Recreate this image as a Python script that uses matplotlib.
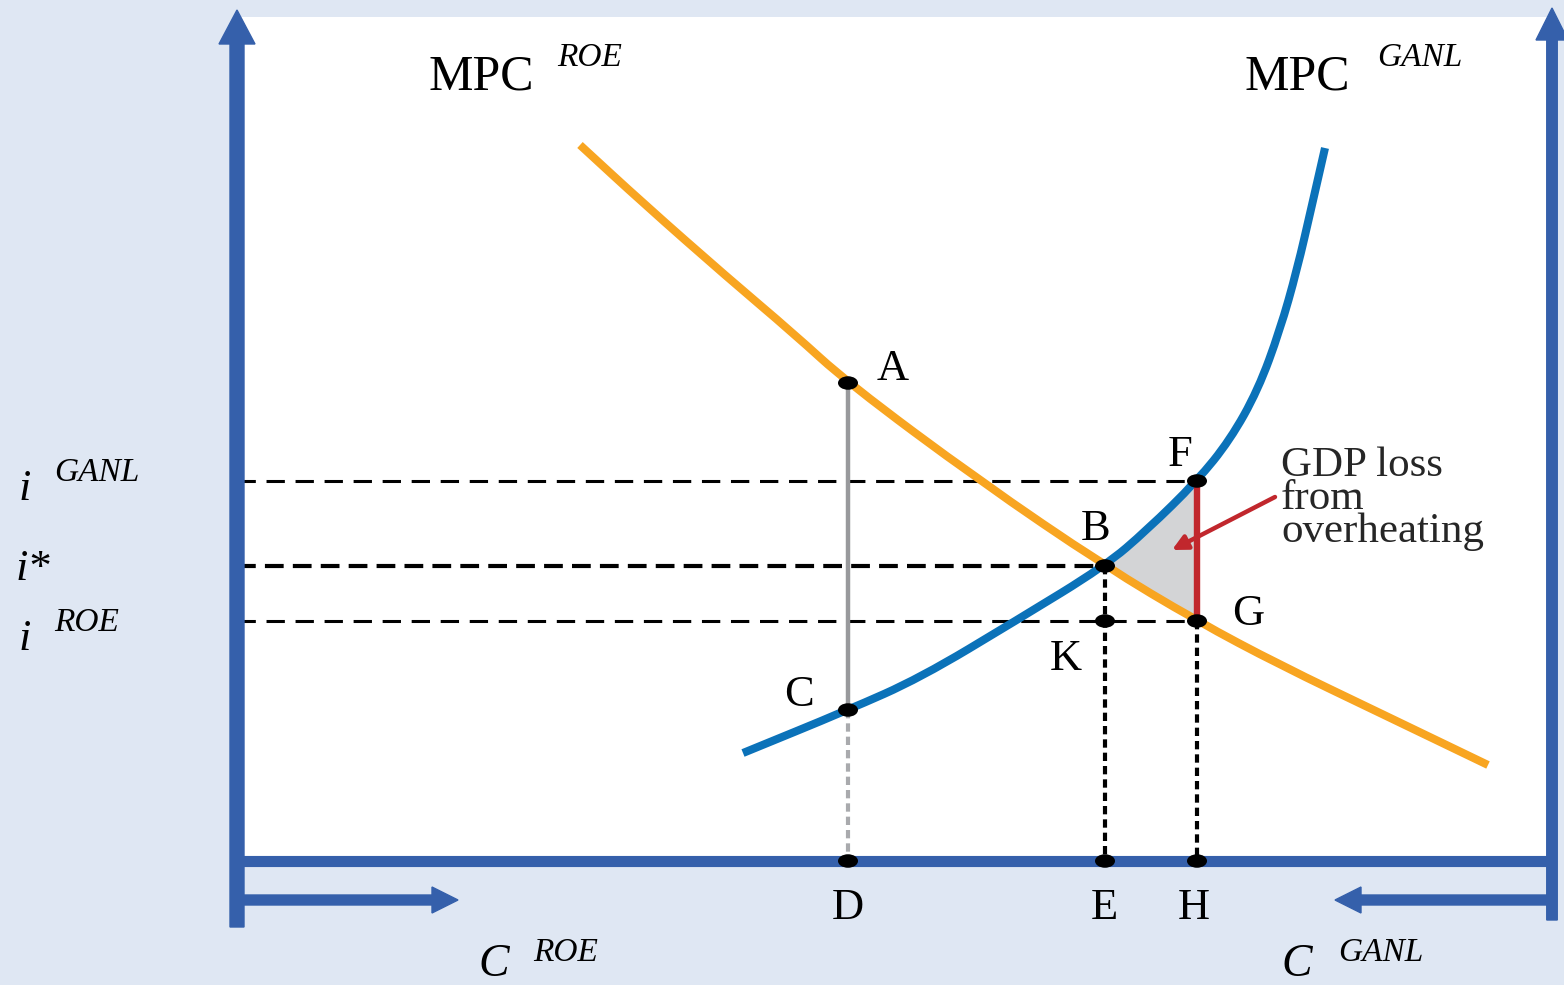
import matplotlib
matplotlib.use("Agg")
import matplotlib.pyplot as plt
from matplotlib.path import Path
from matplotlib.patches import PathPatch, Ellipse, FancyArrow, Rectangle, Polygon
from matplotlib.transforms import Affine2D

# --- data (consumption on x, interest rate on y) ---
mpc_roe_x = [34.3, 40.6, 49.0, 55.6, 61.1, 74.3, 86.8, 96.0, 104.3, 114.3, 125.1]
mpc_roe_y = [71.6, 65.8, 58.4, 52.8, 47.8, 38.0, 29.5, 24.0, 19.6, 14.8, 9.6]

mpc_ganl_x = [50.6, 61.1, 68.3, 78.0, 86.8, 91.0, 96.0, 99.3, 102.1, 104.3, 106.0, 107.5, 108.8]
mpc_ganl_y = [10.8, 15.1, 18.3, 24.1, 29.5, 33.1, 38.0, 42.1, 47.1, 53.1, 59.1, 65.6, 71.3]

point_names = ["A", "B", "C", "D", "E", "F", "G", "H", "K"]
point_x = [61.1, 86.8, 61.1, 61.1, 86.8, 96.0, 96.0, 96.0, 86.8]
point_y = [47.8, 29.5, 15.1, 0.0, 0.0, 38.0, 24.0, 0.0, 24.0]

rate_levels = [38.0, 29.5, 24.0]          # i^GANL, i*, i^ROE
rate_ends = ["F", "B", "G"]

axis_right = 131.5

# --- styles ---
BG = "#dfe7f3"
AXIS = "#3560ab"
ORANGE = "#f8a521"
BLUE = "#0b72b9"
RED = "#c1272d"
GREY = "#98999c"
FILL = "#d3d4d6"
SERIF = "Liberation Serif"

W, H = 1564, 985
fig = plt.figure(figsize=(W / 100, H / 100), dpi=100, facecolor=BG)
ax = fig.add_axes([0, 0, 1, 1])
ax.set_xlim(-23.7, 132.7)
ax.set_ylim(-12.4, 86.1)
ax.axis("off")

# pixel positions measured from the top-left corner, for text layout
pix = Affine2D().scale(1 / W, -1 / H).translate(0, 1) + fig.transFigure

pts = {n: (x, y) for n, x, y in zip(point_names, point_x, point_y)}

ax.add_patch(Rectangle((0, 0), axis_right, 84.4, facecolor="white", edgecolor="none", zorder=0))


def smooth_path(xs, ys):
    """quadratic B-spline through the midpoints of the control polygon"""
    p = list(zip(xs, ys))
    verts = [p[0], ((p[0][0] + p[1][0]) / 2, (p[0][1] + p[1][1]) / 2)]
    codes = [Path.MOVETO, Path.LINETO]
    for i in range(1, len(p) - 1):
        mid = ((p[i][0] + p[i + 1][0]) / 2, (p[i][1] + p[i + 1][1]) / 2)
        verts += [p[i], mid]
        codes += [Path.CURVE3, Path.CURVE3]
    verts.append(p[-1])
    codes.append(Path.LINETO)
    return Path(verts, codes)


# shaded triangle B-F-G between the two curves
bx, fx = pts["B"][0], pts["F"][0]
tri = [(x, y) for x, y in zip(mpc_ganl_x, mpc_ganl_y) if bx <= x <= fx]
tri += [(x, y) for x, y in reversed(list(zip(mpc_roe_x, mpc_roe_y))) if bx <= x <= fx]
ax.add_patch(Polygon(tri, closed=True, facecolor=FILL, edgecolor="none", zorder=1))

# dashed guides to the interest-rate axis
for lvl, end, lw, dash in zip(rate_levels, rate_ends, [2.2, 3.0, 2.2], [(6, 3.5), (4.5, 2.2), (6, 3.5)]):
    ax.plot([0, pts[end][0]], [lvl, lvl], color="black", lw=lw, dashes=dash,
            solid_capstyle="butt", zorder=2)

# verticals
ax.plot([pts["A"][0], pts["C"][0]], [pts["A"][1], pts["C"][1]], color=GREY, lw=3.2, zorder=2)
ax.plot([pts["C"][0], pts["D"][0]], [pts["C"][1], pts["D"][1]], color="#a9aaad", lw=3.0,
        dashes=(2, 1.2), zorder=2)
for top, bot in [("B", "E"), ("G", "H")]:
    ax.plot([pts[top][0], pts[bot][0]], [pts[top][1], pts[bot][1]], color="black", lw=3.0,
            dashes=(2, 1.2), zorder=2)

# MPC curves
ax.add_patch(PathPatch(smooth_path(mpc_roe_x, mpc_roe_y), fill=False, edgecolor=ORANGE,
                       lw=5.8, capstyle="butt", zorder=3))
ax.add_patch(PathPatch(smooth_path(mpc_ganl_x, mpc_ganl_y), fill=False, edgecolor=BLUE,
                       lw=5.8, capstyle="butt", zorder=3))

# GDP loss segment F-G
ax.plot([pts["F"][0], pts["G"][0]], [pts["F"][1], pts["G"][1]], color=RED, lw=4.6,
        solid_capstyle="butt", zorder=4)

# axes with arrows
ax.add_patch(FancyArrow(0, -6.6, 0, 91.7, width=1.4, head_width=3.6, head_length=3.4,
                        length_includes_head=True, color=AXIS, zorder=5))
ax.add_patch(FancyArrow(axis_right, -5.9, 0, 91.2, width=1.05, head_width=3.2, head_length=3.2,
                        length_includes_head=True, color=AXIS, zorder=5))
ax.plot([0, axis_right], [0, 0], color=AXIS, lw=8, solid_capstyle="butt", zorder=5)
ax.add_patch(FancyArrow(0, -3.9, 22.1, 0, width=1.0, head_width=2.6, head_length=2.6,
                        length_includes_head=True, color=AXIS, zorder=5))
ax.add_patch(FancyArrow(axis_right, -3.9, -21.7, 0, width=1.0, head_width=2.6, head_length=2.6,
                        length_includes_head=True, color=AXIS, zorder=5))

# points
for n in point_names:
    ax.add_patch(Ellipse(pts[n], 2.0, 1.35, facecolor="black", edgecolor="none", zorder=6))

# point letters (offsets in pixels from each dot to the letter baseline)
letter_offsets = {"A": (45, 3), "F": (-17, 15), "B": (-9, 26), "G": (51, -4), "K": (-39, -49),
                  "C": (-49, 4), "D": (0, -58), "E": (-1, -58), "H": (-3, -58)}
for n, off in letter_offsets.items():
    ax.annotate(n, pts[n], xytext=off, textcoords="offset pixels", ha="center", va="baseline",
                fontsize=32, family=SERIF, color="black", zorder=7)

# arrow to the shaded area
ax.annotate("", xy=(93.5, 31.1), xytext=(103.8, 36.4),
            arrowprops=dict(arrowstyle="-|>,head_length=0.9,head_width=0.45", color=RED, lw=3.2,
                            shrinkA=0, shrinkB=0), zorder=7)
ax.text(1281, 542, "GDP loss\nfrom\noverheating", transform=pix, ha="left", va="baseline",
        fontsize=31, family=SERIF, color="#262626", linespacing=0.82)

# curve names
for cx, sx, sup in [(481, 590, "ROE"), (1297, 1420, "GANL")]:
    ax.text(cx, 90, "MPC", transform=pix, ha="center", va="baseline", fontsize=36, family=SERIF)
    ax.text(sx, 66, sup, transform=pix, ha="center", va="baseline", fontsize=24, family=SERIF,
            style="italic")

# interest-rate labels
ax.text(25, 500, "i", transform=pix, ha="center", va="baseline", fontsize=32, family=SERIF, style="italic")
ax.text(97, 481, "GANL", transform=pix, ha="center", va="baseline", fontsize=24, family=SERIF, style="italic")
ax.text(16, 580, "i*", transform=pix, ha="left", va="baseline", fontsize=32, family=SERIF, style="italic")
ax.text(25, 650, "i", transform=pix, ha="center", va="baseline", fontsize=32, family=SERIF, style="italic")
ax.text(87, 631, "ROE", transform=pix, ha="center", va="baseline", fontsize=24, family=SERIF, style="italic")

# consumption labels
for cx, sx, sup in [(494, 566, "ROE"), (1297, 1381, "GANL")]:
    ax.text(cx, 976, "C", transform=pix, ha="center", va="baseline", fontsize=33, family=SERIF, style="italic")
    ax.text(sx, 961, sup, transform=pix, ha="center", va="baseline", fontsize=24, family=SERIF, style="italic")

fig.savefig("out.png", dpi=100, facecolor=BG)
